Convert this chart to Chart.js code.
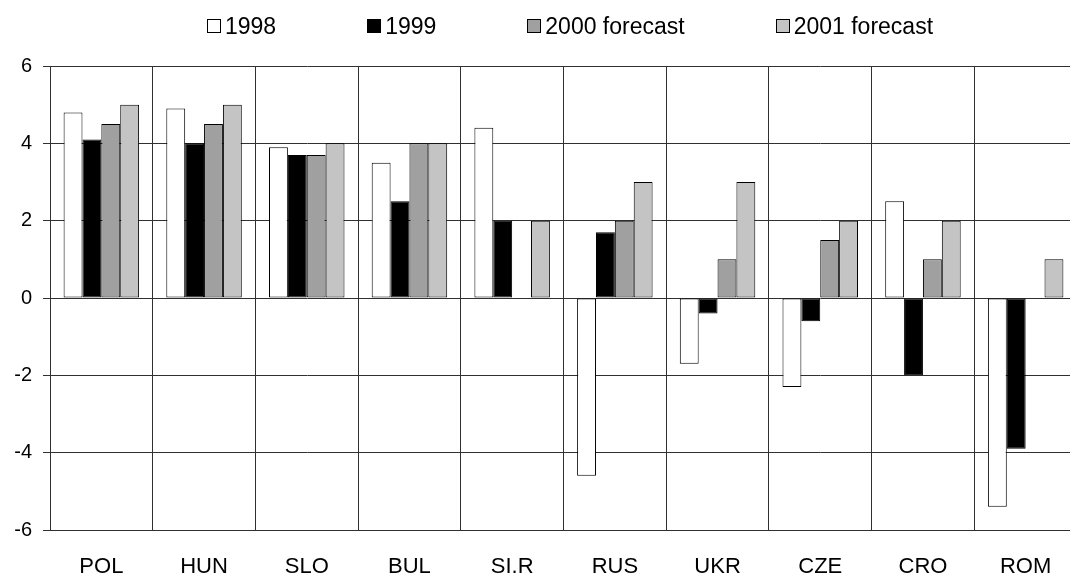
<!DOCTYPE html>
<html>
<head>
<meta charset="utf-8">
<title>GDP growth</title>
<script src="https://cdn.jsdelivr.net/npm/chart.js@4.4.1/dist/chart.umd.min.js"></script>
<style>
  html, body { margin: 0; padding: 0; background: #fff; overflow: hidden; }
  #wrap { position: relative; width: 1070px; height: 577px; overflow: hidden; }
  #chart { position: absolute; left: 0; top: 0; }
  #legend {
    position: absolute; left: 0; top: 14px; width: 1140px;
    display: flex; justify-content: center; gap: 91px;
    font: 23px 'Liberation Sans', Arial, sans-serif; line-height: 24px; color: #000;
  }
  .item { display: flex; align-items: center; }
  .box { display: inline-block; width: 12px; height: 12px; border: 1px solid #000; margin-right: 4px; }
</style>
</head>
<body>
<div id="wrap">
  <canvas id="chart" width="1078" height="577"></canvas>
  <div id="legend"></div>
</div>
<script>
// ---- data ----
const categories = ['POL', 'HUN', 'SLO', 'BUL', 'SI.R', 'RUS', 'UKR', 'CZE', 'CRO', 'ROM'];
const v1998 = [4.8, 4.9, 3.9, 3.5, 4.4, -4.6, -1.7, -2.3, 2.5, -5.4];
const v1999 = [4.1, 4.0, 3.7, 2.5, 2.0, 1.7, -0.4, -0.6, -2.0, -3.9];
const v2000 = [4.5, 4.5, 3.7, 4.0, null, 2.0, 1.0, 1.5, 1.0, null];
const v2001 = [5.0, 5.0, 4.0, 4.0, 2.0, 3.0, 3.0, 2.0, 2.0, 1.0];
const seriesNames = ['1998', '1999', '2000 forecast', '2001 forecast'];
const seriesColors = ['#ffffff', '#000000', '#a0a0a0', '#c4c4c4'];
const yMin = -6, yMax = 6, yStep = 2;

const FONT = "'Liberation Sans', Arial, sans-serif";
const GRID = '#303030';

// legend drawn as html from the chart's own legend items
const htmlLegend = {
    id: 'htmlLegend',
    afterUpdate(chart) {
        const box = document.getElementById('legend');
        box.innerHTML = '';
        chart.options.plugins.legend.labels.generateLabels(chart).forEach(item => {
            const el = document.createElement('div');
            el.className = 'item';
            const sw = document.createElement('span');
            sw.className = 'box';
            sw.style.background = item.fillStyle;
            el.appendChild(sw);
            el.appendChild(document.createTextNode(item.text));
            box.appendChild(el);
        });
    }
};

const seriesValues = [v1998, v1999, v2000, v2001];
const datasets = seriesNames.map((name, i) => ({
    label: name,
    data: seriesValues[i],
    backgroundColor: seriesColors[i],
    borderColor: '#000000',
    borderWidth: 1,
    borderSkipped: false,
    categoryPercentage: 0.735,
    barPercentage: 1.0
}));

const ctx = document.getElementById('chart').getContext('2d');
new Chart(ctx, {
    type: 'bar',
    data: { labels: categories, datasets: datasets },
    options: {
        responsive: false,
        animation: false,
        devicePixelRatio: 1,
        layout: { padding: { top: 66, right: 1, left: 0, bottom: 0 } },
        plugins: {
            legend: { display: false },
            tooltip: { enabled: false }
        },
        scales: {
            x: {
                grid: { offset: true, drawTicks: false, color: GRID, lineWidth: 1 },
                border: { color: GRID },
                ticks: { color: '#000', font: { family: FONT, size: 22 }, padding: 24, maxRotation: 0 },
                afterFit(scale) { scale.height = 47; }
            },
            y: {
                min: yMin, max: yMax,
                grid: { color: GRID, lineWidth: 1, tickLength: 7 },
                border: { color: GRID },
                ticks: { stepSize: yStep, color: '#000', font: { family: FONT, size: 20 }, padding: 11 },
                afterFit(scale) { scale.width = 50; }
            }
        }
    },
    plugins: [htmlLegend]
});
</script>
</body>
</html>
